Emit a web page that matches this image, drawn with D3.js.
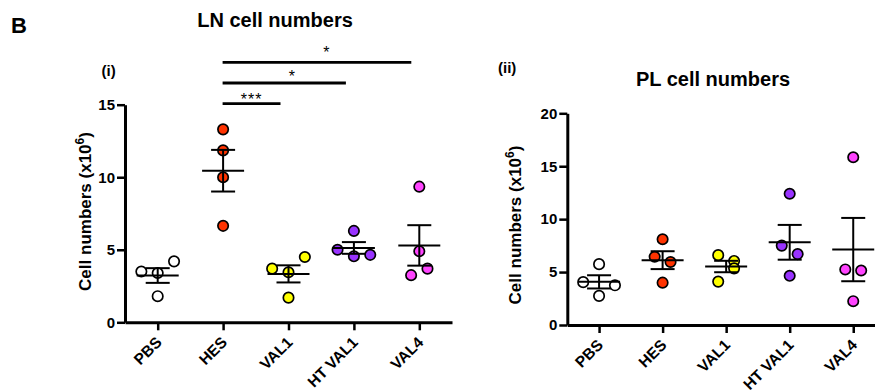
<!DOCTYPE html>
<html>
<head>
<meta charset="utf-8">
<script src="https://cdn.jsdelivr.net/npm/d3@7"></script>
<style>
  html, body { margin: 0; padding: 0; background: #fff; }
  svg { display: block; font-family: "Liberation Sans", Arial, Helvetica, sans-serif; font-weight: bold; }
</style>
</head>
<body>
<svg id="fig" width="875" height="392"></svg>
<script>
// Group labels shared by both panels
const categories = ["PBS", "HES", "VAL1", "HT VAL1", "VAL4"];
const groupColors = ["#ffffff", "#ff3300", "#ffff00", "#9933ff", "#ff44ff"];

// Lymph node cell numbers (x10^6), four animals per group
const lnPBS    = [3.5, 3.4, 4.2, 1.8];
const lnHES    = [13.3, 11.85, 10.0, 6.65];
const lnVAL1   = [3.7, 3.45, 4.5, 1.7];
const lnHTVAL1 = [5.0, 6.3, 4.55, 4.65];
const lnVAL4   = [9.35, 4.9, 3.25, 3.7];

// Peritoneal lavage cell numbers (x10^6)
const plPBS    = [4.05, 5.75, 2.75, 3.75];
const plHES    = [8.1, 6.45, 5.95, 4.0];
const plVAL1   = [6.6, 6.05, 5.35, 4.1];
const plHTVAL1 = [12.4, 7.5, 6.7, 4.65];
const plVAL4   = [15.85, 5.25, 5.15, 2.25];

// Horizontal spread of overlapping dots, as a fraction of the group spacing
const lnSpread = [[-0.25, 0, 0.25, 0], [0, 0, 0, 0], [-0.25, 0, 0.25, 0], [-0.25, 0, 0, 0.25], [0, 0, -0.125, 0.125]];
const plSpread = [[-0.25, 0, 0, 0.25], [0, -0.125, 0.125, 0], [-0.125, 0.125, 0.125, -0.125], [0, -0.125, 0.125, 0], [0, -0.125, 0.125, 0]];

// Axis ticks
const lnTicks = [0, 5, 10, 15];
const plTicks = [0, 5, 10, 15, 20];

// Significance comparisons in the LN panel
const lnCompFrom = ["HES", "HES", "HES"];
const lnCompTo   = ["VAL1", "HT VAL1", "VAL4"];
const lnCompText = ["***", "*", "*"];

const svg = d3.select("#fig");

function mean(a) { return d3.mean(a); }
function sem(a) { return d3.deviation(a) / Math.sqrt(a.length); }

function drawPanel(opts) {
  const g = svg.append("g");
  const x = d3.scalePoint().domain(categories).range(opts.xRange).padding(0.5);
  const y = d3.scaleLinear().domain([0, opts.yMax]).range(opts.yRange);
  const step = x.step();

  // y axis
  const yAx = g.append("g")
    .attr("transform", `translate(${opts.xRange[0]},0)`)
    .call(d3.axisLeft(y).tickValues(opts.ticks).tickSize(8).tickSizeOuter(0).tickPadding(2));
  yAx.select(".domain").attr("stroke-width", 3).attr("stroke", "#000");
  yAx.selectAll(".tick line").attr("stroke-width", 2.5).attr("stroke", "#000");
  yAx.selectAll(".tick text").attr("font-size", 15).attr("font-weight", "bold")
    .attr("font-family", "Liberation Sans, Arial, sans-serif").attr("fill", "#000");

  // x axis
  const xAx = g.append("g")
    .attr("transform", `translate(0,${opts.yRange[0]})`)
    .call(d3.axisBottom(x).tickSize(8).tickSizeOuter(0).tickFormat(""));
  xAx.select(".domain").attr("stroke-width", 3).attr("stroke", "#000");
  xAx.selectAll(".tick line").attr("stroke-width", 2.5).attr("stroke", "#000");

  // rotated group labels
  g.selectAll("text.xlab").data(categories).enter().append("text")
    .attr("class", "xlab")
    .attr("transform", d => `translate(${x(d) + 5},${opts.yRange[0] + 21}) rotate(-45)`)
    .attr("text-anchor", "end")
    .attr("font-size", 15.5)
    .text(d => d);

  // y axis title with superscript exponent
  const yt = g.append("text")
    .attr("transform", `translate(${opts.yTitleX},${opts.yTitleY}) rotate(-90)`)
    .attr("text-anchor", "middle")
    .attr("font-size", 17);
  yt.append("tspan").text("Cell numbers (x10");
  yt.append("tspan").attr("font-size", 12).attr("dy", -7).text("6");
  yt.append("tspan").attr("dy", 7).text(")");

  // dots
  const pts = [];
  opts.series.forEach((vals, i) => {
    vals.forEach((v, j) => pts.push({ cat: categories[i], v, off: opts.spread[i][j], color: groupColors[i] }));
  });
  g.selectAll("circle.dot").data(pts).enter().append("circle")
    .attr("class", "dot")
    .attr("cx", d => x(d.cat) + d.off * step)
    .attr("cy", d => y(d.v))
    .attr("r", 5.2)
    .attr("fill", d => d.color)
    .attr("stroke", "#000")
    .attr("stroke-width", 1.7);

  // mean ± SEM
  const stats = opts.series.map((vals, i) => ({ cat: categories[i], m: mean(vals), s: sem(vals) }));
  const eb = g.selectAll("g.eb").data(stats).enter().append("g").attr("class", "eb")
    .attr("stroke", "#000").attr("stroke-width", 2);
  eb.append("line")
    .attr("x1", d => x(d.cat) - 21).attr("x2", d => x(d.cat) + 21)
    .attr("y1", d => y(d.m)).attr("y2", d => y(d.m));
  eb.append("line")
    .attr("x1", d => x(d.cat)).attr("x2", d => x(d.cat))
    .attr("y1", d => y(d.m - d.s)).attr("y2", d => y(d.m + d.s));
  eb.append("line")
    .attr("x1", d => x(d.cat) - 12).attr("x2", d => x(d.cat) + 12)
    .attr("y1", d => y(d.m + d.s)).attr("y2", d => y(d.m + d.s));
  eb.append("line")
    .attr("x1", d => x(d.cat) - 12).attr("x2", d => x(d.cat) + 12)
    .attr("y1", d => y(d.m - d.s)).attr("y2", d => y(d.m - d.s));

  return { x, y };
}

const ln = drawPanel({
  xRange: [125, 452], yRange: [322.3, 104.7], yMax: 15, ticks: lnTicks,
  series: [lnPBS, lnHES, lnVAL1, lnHTVAL1, lnVAL4], spread: lnSpread,
  yTitleX: 91, yTitleY: 211.5
});

drawPanel({
  xRange: [567.3, 885], yRange: [325, 113.3], yMax: 20, ticks: plTicks,
  series: [plPBS, plHES, plVAL1, plHTVAL1, plVAL4], spread: plSpread,
  yTitleX: 521, yTitleY: 225
});

// significance bars above the LN panel
const starShift = [0, 8, 10];
lnCompFrom.forEach((from, i) => {
  const x1 = ln.x(from) - 0.5;
  const x2 = ln.x(lnCompTo[i]) - 8;
  const yy = 103.7 - i * 20.7;
  svg.append("line").attr("x1", x1).attr("x2", x2).attr("y1", yy).attr("y2", yy)
    .attr("stroke", "#000").attr("stroke-width", 2.8);
  svg.append("text").attr("x", (x1 + x2) / 2 + starShift[i]).attr("y", yy + 1.5 - i * 3)
    .attr("text-anchor", "middle").attr("font-size", 16).attr("font-weight", "normal")
    .attr("letter-spacing", 1)
    .text(lnCompText[i]);
});

// titles and panel labels
svg.append("text").attr("x", 11).attr("y", 33).attr("font-size", 22).text("B");
svg.append("text").attr("x", 275).attr("y", 27).attr("text-anchor", "middle").attr("font-size", 20).text("LN cell numbers");
svg.append("text").attr("x", 713).attr("y", 86).attr("text-anchor", "middle").attr("font-size", 20).text("PL cell numbers");
svg.append("text").attr("x", 101.5).attr("y", 76).attr("font-size", 15).text("(i)");
svg.append("text").attr("x", 498).attr("y", 73).attr("font-size", 15).text("(ii)");
</script>
</body>
</html>
